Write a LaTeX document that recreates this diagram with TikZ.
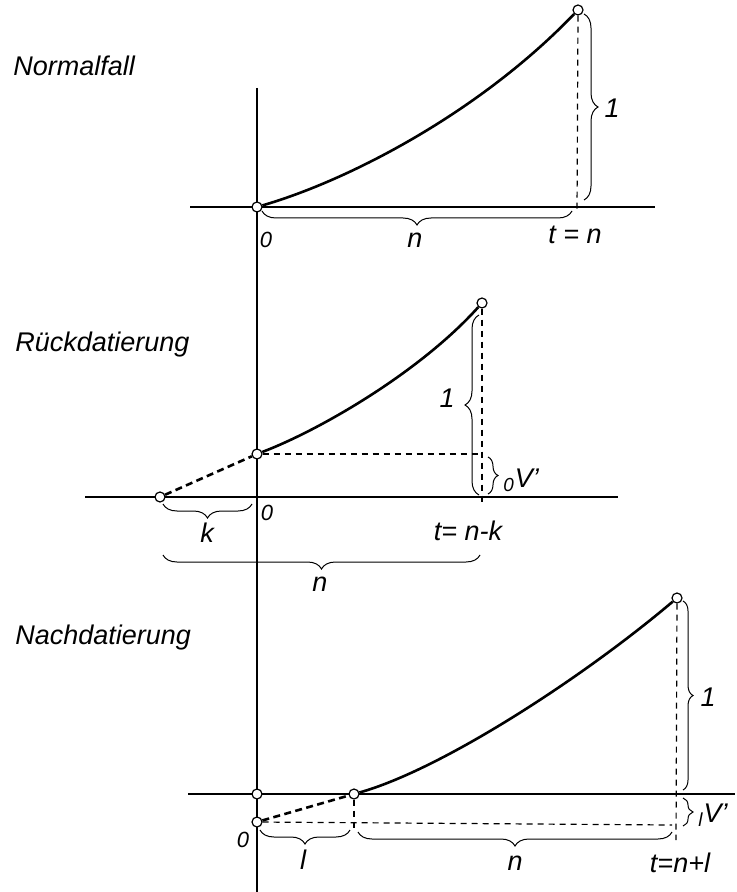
\documentclass[tikz,border=0pt]{standalone}
\usepackage{fontspec}
\setmainfont{Liberation Sans}
\usetikzlibrary{decorations.pathreplacing,positioning}
\tikzstyle{axisline} = [line width=0.6pt]
\tikzstyle{reserve} = [line width=1.3pt]
\tikzstyle{reservedash} = [line width=1.3pt, dash pattern=on 3.5pt off 2.2pt]
\tikzstyle{helper} = [line width=0.6pt, dash pattern=on 3pt off 2.5pt]
\tikzstyle{knot} = [draw, circle, fill=white, inner sep=0pt, minimum size=5pt, line width=0.6pt]
\tikzstyle{brc} = [decorate, decoration={brace, amplitude=7pt}, line width=0.5pt]
\tikzstyle{brcsmall} = [decorate, decoration={brace, amplitude=5pt}, line width=0.5pt]
\tikzstyle{lbl} = [font=\fontsize{13.5}{13.5}\selectfont\itshape, inner sep=0pt]
\tikzstyle{zero} = [font=\fontsize{11}{11}\selectfont\itshape, inner sep=0pt]
\tikzstyle{caption} = [font=\fontsize{13.5}{14}\selectfont\itshape, anchor=west, inner sep=0pt]
\begin{document}
\begin{tikzpicture}[x=0.5pt, y=-0.5pt]
    \useasboundingbox (0,0) rectangle (737,892);
    % common time axis
    \coordinate (vtop) at (257,88);
    \coordinate (vbot) at (257,892);
    \draw [axisline] (vtop) -- (vbot);

    % Normalfall
    \node [caption] (cap1) at (13,66) {Normalfall};
    \coordinate (ax1l) at (190,207);
    \coordinate (ax1r) at (655,207);
    \draw [axisline] (ax1l) -- (ax1r);
    \node [knot] (o1) at (257,207) {};
    \node [knot] (e1) at (578,10) {};
    \coordinate (d1) at (577,213);
    \draw [reserve] (o1) .. controls (350,180) and (480,112) .. (e1);
    \draw [helper] (e1) -- (d1);
    \draw [brc] (584,14) -- (584,200);
    \draw [brc] (572,211) -- (262,211);
    \node [lbl] (one1) at (612,108) {1};
    \node [lbl] (n1) at (415,240) {n};
    \node [zero] (zero1) at (266,240) {0};
    \node [lbl] (t1) at (575,235) {t = n};

    % Rueckdatierung
    \node [caption] (cap2) at (15,345) {Rückdatierung};
    \coordinate (ax2l) at (85,497);
    \coordinate (ax2r) at (618,497);
    \draw [axisline] (ax2l) -- (ax2r);
    \node [knot] (s2) at (160,497) {};
    \node [knot] (o2) at (257,454) {};
    \node [knot] (e2) at (482,303) {};
    \coordinate (h2) at (482,454);
    \coordinate (d2) at (482,505);
    \draw [reservedash] (s2) -- (o2);
    \draw [reserve] (o2) .. controls (320,430) and (420,372) .. (e2);
    \draw [helper] (o2) -- (h2);
    \draw [helper] (e2) -- (d2);
    \draw [brc] (479,495) -- (479,315);
    \draw [brcsmall] (488,457) -- (488,494);
    \draw [brc] (252,504) -- (163,504);
    \draw [brc] (480,555) -- (163,555);
    \node [lbl] (one2) at (447,398) {1};
    \node [lbl] (v2) at (521,480) {\textsubscript{0}V'};
    \node [lbl] (k2) at (207,533) {k};
    \node [zero] (zero2) at (267,513) {0};
    \node [lbl] (t2) at (468,531) {t= n-k};
    \node [lbl] (n2) at (320,584) {n};

    % Nachdatierung
    \node [caption] (cap3) at (15,638) {Nachdatierung};
    \coordinate (ax3l) at (188,794);
    \coordinate (ax3r) at (735,794);
    \draw [axisline] (ax3l) -- (ax3r);
    \node [knot] (z3) at (257,794) {};
    \node [knot] (o3) at (257,822) {};
    \node [knot] (s3) at (354,794) {};
    \node [knot] (e3) at (677,598) {};
    \coordinate (h3) at (672,825);
    \coordinate (d3) at (676,840);
    \coordinate (ds3) at (354,832);
    \draw [reservedash] (o3) -- (s3);
    \draw [reserve] (s3) .. controls (440,770) and (580,680) .. (e3);
    \draw [helper] (o3) -- (h3);
    \draw [helper] (e3) -- (d3);
    \draw [helper] (s3) -- (ds3);
    \draw [brcsmall] (683,601) -- (683,790);
    \draw [brcsmall] (683,798) -- (683,826);
    \draw [brc] (350,830) -- (260,830);
    \draw [brc] (672,832) -- (358,832);
    \node [lbl] (one3) at (708,697) {1};
    \node [lbl] (v3) at (713,815) {\textsubscript{l}V'};
    \node [lbl] (l3) at (303,860) {l};
    \node [lbl] (n3) at (515,863) {n};
    \node [zero] (zero3) at (243,840) {0};
    \node [lbl] (t3) at (680,863) {t=n+l};
\end{tikzpicture}
\end{document}
